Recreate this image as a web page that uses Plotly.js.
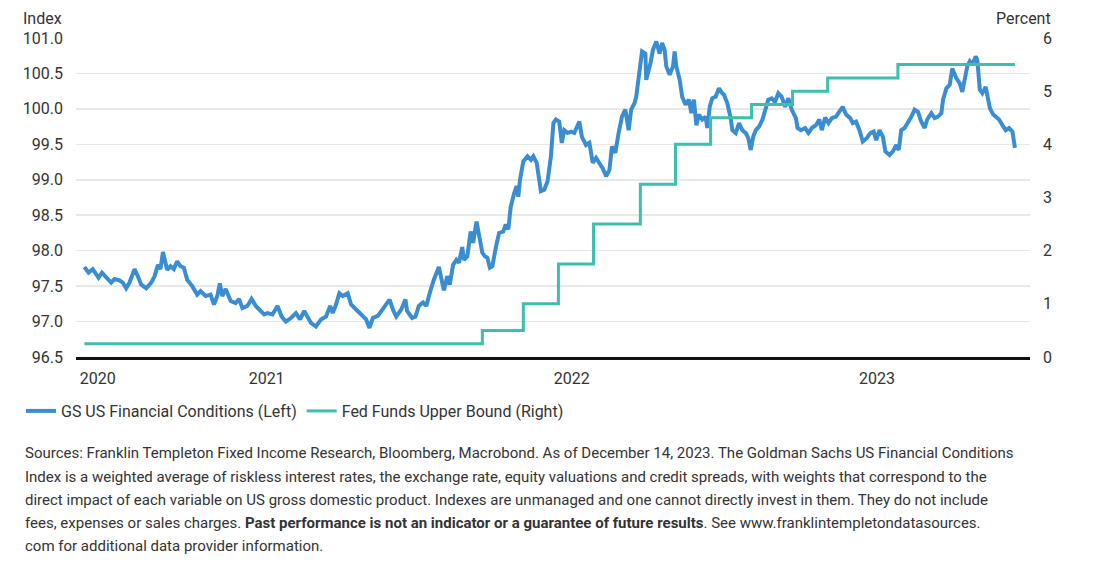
<!DOCTYPE html>
<html>
<head>
<meta charset="utf-8">
<script src="https://cdn.plot.ly/plotly-3.0.1.min.js"></script>
<style>
  html, body { margin: 0; padding: 0; background: #ffffff; }
  #chart { width: 1110px; height: 587px; }
</style>
</head>
<body>
<div id="chart"></div>
<script>
// GS US Financial Conditions Index (left axis)
var fciDates = [
  "2020-11-26","2020-12-01","2020-12-06","2020-12-10","2020-12-13","2020-12-17","2020-12-22","2020-12-28",
  "2021-01-01","2021-01-07","2021-01-11","2021-01-15","2021-01-19","2021-01-22","2021-01-25","2021-01-29",
  "2021-02-02","2021-02-08","2021-02-14","2021-02-18","2021-02-22","2021-02-25","2021-02-28",
  "2021-03-03","2021-03-05","2021-03-09","2021-03-13","2021-03-17","2021-03-21","2021-03-25","2021-03-29",
  "2021-04-04","2021-04-10","2021-04-14","2021-04-20","2021-04-26","2021-04-30",
  "2021-05-04","2021-05-07","2021-05-10","2021-05-14","2021-05-20","2021-05-26","2021-05-30",
  "2021-06-03","2021-06-09","2021-06-14","2021-06-19","2021-06-25","2021-06-29",
  "2021-07-03","2021-07-09","2021-07-15","2021-07-20","2021-07-25","2021-07-31",
  "2021-08-06","2021-08-11","2021-08-16","2021-08-20","2021-08-24","2021-08-30",
  "2021-09-05","2021-09-11","2021-09-16","2021-09-19","2021-09-23","2021-09-27",
  "2021-10-01","2021-10-07","2021-10-11","2021-10-17","2021-10-23","2021-10-29",
  "2021-11-02","2021-11-06","2021-11-12","2021-11-17","2021-11-22","2021-11-26","2021-11-30",
  "2021-12-04","2021-12-10","2021-12-15","2021-12-17","2021-12-23","2021-12-27","2021-12-31",
  "2022-01-05","2022-01-09","2022-01-13","2022-01-18","2022-01-24","2022-01-28","2022-01-30",
  "2022-02-03","2022-02-06","2022-02-10","2022-02-14","2022-02-17","2022-02-21","2022-02-23","2022-02-27",
  "2022-03-03","2022-03-06","2022-03-10","2022-03-13","2022-03-17","2022-03-20","2022-03-23","2022-03-26","2022-03-29",
  "2022-04-02","2022-04-06","2022-04-11","2022-04-14","2022-04-17","2022-04-20","2022-04-24","2022-04-27","2022-04-29",
  "2022-05-01","2022-05-05","2022-05-10","2022-05-14","2022-05-17","2022-05-21","2022-05-24","2022-05-26","2022-05-30",
  "2022-06-03","2022-06-07","2022-06-10","2022-06-13","2022-06-17","2022-06-20","2022-06-23","2022-06-27",
  "2022-07-01","2022-07-05","2022-07-08","2022-07-11","2022-07-14","2022-07-19","2022-07-23","2022-07-27","2022-07-31",
  "2022-08-04","2022-08-08","2022-08-12","2022-08-16","2022-08-19","2022-08-23","2022-08-27","2022-08-31",
  "2022-09-04","2022-09-08","2022-09-11","2022-09-15","2022-09-17","2022-09-21","2022-09-24","2022-09-28","2022-09-29",
  "2022-10-04","2022-10-07","2022-10-11","2022-10-15","2022-10-18","2022-10-21","2022-10-23","2022-10-27","2022-10-31",
  "2022-11-02","2022-11-04","2022-11-08","2022-11-11","2022-11-15","2022-11-19","2022-11-22","2022-11-25","2022-11-28",
  "2022-12-01","2022-12-05","2022-12-09","2022-12-11","2022-12-14","2022-12-17","2022-12-21","2022-12-25","2022-12-29","2022-12-31",
  "2023-01-04","2023-01-08","2023-01-10","2023-01-14","2023-01-18","2023-01-22","2023-01-26","2023-01-29",
  "2023-02-01","2023-02-04","2023-02-07","2023-02-11","2023-02-15","2023-02-19","2023-02-22","2023-02-26",
  "2023-03-02","2023-03-06","2023-03-10","2023-03-14","2023-03-18","2023-03-22","2023-03-27","2023-03-29",
  "2023-04-02","2023-04-07","2023-04-11","2023-04-15","2023-04-20","2023-04-24","2023-04-27",
  "2023-05-01","2023-05-05","2023-05-09","2023-05-14","2023-05-18","2023-05-22","2023-05-26","2023-05-31",
  "2023-06-03","2023-06-07","2023-06-11","2023-06-15","2023-06-20","2023-06-24","2023-06-28",
  "2023-07-01","2023-07-05","2023-07-09","2023-07-12","2023-07-17","2023-07-21","2023-07-25","2023-07-28","2023-07-31",
  "2023-08-04","2023-08-08","2023-08-12","2023-08-16","2023-08-20","2023-08-24","2023-08-28","2023-08-31",
  "2023-09-05","2023-09-09","2023-09-13","2023-09-17","2023-09-19","2023-09-23","2023-09-27","2023-09-30",
  "2023-10-05","2023-10-09","2023-10-12","2023-10-14","2023-10-18","2023-10-21","2023-10-24","2023-10-28","2023-10-30",
  "2023-11-02","2023-11-05","2023-11-09","2023-11-11","2023-11-14","2023-11-18","2023-11-22","2023-11-25","2023-11-29",
  "2023-12-03","2023-12-07","2023-12-11","2023-12-14"
];
var fciValues = [
  97.77,97.69,97.74,97.66,97.62,97.69,97.62,97.55,
  97.60,97.58,97.55,97.47,97.55,97.64,97.74,97.64,
  97.52,97.47,97.55,97.64,97.80,97.74,97.98,
  97.83,97.73,97.78,97.74,97.85,97.78,97.76,97.59,
  97.50,97.38,97.43,97.36,97.38,97.24,
  97.36,97.54,97.36,97.46,97.29,97.26,97.32,
  97.19,97.22,97.32,97.22,97.15,97.10,
  97.12,97.10,97.22,97.07,97.00,97.05,
  97.12,97.03,97.15,97.07,96.98,96.93,
  97.03,97.07,97.22,97.12,97.24,97.40,
  97.36,97.40,97.24,97.17,97.10,97.03,
  96.91,97.05,97.08,97.17,97.24,97.31,97.17,
  97.07,97.17,97.31,97.15,97.05,97.07,97.22,
  97.27,97.22,97.40,97.59,97.77,97.55,97.44,
  97.64,97.52,97.80,97.87,97.83,98.05,97.87,97.92,
  98.27,98.11,98.41,98.20,97.97,97.92,97.90,97.76,97.78,
  98.04,98.25,98.27,98.37,98.30,98.62,98.81,98.91,98.76,
  99.00,99.26,99.33,99.28,99.33,99.24,99.00,98.84,98.86,
  98.98,99.33,99.80,99.85,99.82,99.52,99.70,99.66,
  99.68,99.66,99.73,99.82,99.61,99.49,99.52,99.24,99.31,
  99.24,99.16,99.05,99.14,99.47,99.38,99.66,99.89,
  99.99,99.70,99.99,100.08,100.17,100.55,100.81,100.78,100.41,
  100.64,100.83,100.95,100.78,100.93,100.83,100.60,100.48,100.60,
  100.81,100.60,100.41,100.17,100.06,100.13,99.94,100.13,99.77,
  99.92,99.85,99.89,99.73,100.03,100.15,100.17,100.29,100.22,100.20,
  100.08,99.87,99.70,99.66,99.80,99.70,99.66,99.59,
  99.42,99.61,99.70,99.75,99.85,99.99,100.13,100.15,
  100.10,100.22,100.17,100.03,100.15,99.99,99.87,99.73,
  99.70,99.73,99.66,99.73,99.77,99.85,99.70,
  99.88,99.80,99.87,99.89,99.96,100.03,99.92,99.87,
  99.80,99.82,99.70,99.54,99.59,99.66,99.68,
  99.56,99.70,99.61,99.40,99.35,99.40,99.49,99.42,99.70,
  99.73,99.80,99.89,99.99,99.96,99.82,99.73,99.85,
  99.94,99.87,99.89,99.94,100.13,100.29,100.34,100.57,
  100.43,100.36,100.24,100.36,100.60,100.67,100.62,100.74,100.69,
  100.27,100.22,100.31,100.20,100.01,99.92,99.87,99.85,99.77,
  99.70,99.73,99.68,99.45
];

// Fed Funds upper bound (right axis), step changes
var fedDates = ["2020-11-26","2022-03-17","2022-05-05","2022-06-16","2022-07-28","2022-09-22","2022-11-03","2022-12-15","2023-02-02","2023-03-23","2023-05-04","2023-07-27","2023-12-14"];
var fedValues = [0.25,0.5,1.0,1.75,2.5,3.25,4.0,4.5,4.75,5.0,5.25,5.5,5.5];

var xTickVals = ["2020-12-12","2021-07-02","2022-07-02","2023-07-02"];
var xTickText = ["2020","2021","2022","2023"];
var leftTicks = [96.5,97.0,97.5,98.0,98.5,99.0,99.5,100.0,100.5,101.0];
var leftTickText = ["96.5","97.0","97.5","98.0","98.5","99.0","99.5","100.0","100.5","101.0"];
var rightTicks = [0,1,2,3,4,5,6];

var FONT = "Roboto, 'Open Sans', sans-serif";
var TXT = "#333333";

var traces = [
  {
    x: fciDates, y: fciValues, type: "scatter", mode: "lines",
    name: "GS US Financial Conditions (Left)",
    line: { color: "#3a8dd1", width: 4 },
    yaxis: "y"
  },
  {
    x: fedDates, y: fedValues, type: "scatter", mode: "lines",
    name: "Fed Funds Upper Bound (Right)",
    line: { color: "#3dbfae", width: 3, shape: "hv" },
    yaxis: "y2"
  }
];

var footLines = [
  "Sources: Franklin Templeton Fixed Income Research, Bloomberg, Macrobond. As of December 14, 2023. The Goldman Sachs US Financial Conditions",
  "Index is a weighted average of riskless interest rates, the exchange rate, equity valuations and credit spreads, with weights that correspond to the",
  "direct impact of each variable on US gross domestic product. Indexes are unmanaged and one cannot directly invest in them. They do not include",
  "fees, expenses or sales charges. <b>Past performance is not an indicator or a guarantee of future results</b>. See www.franklintempletondatasources.",
  "com for additional data provider information."
];
var footY = [453, 477, 500, 523, 546];

var annotations = [
  { xref: "paper", yref: "paper", x: -0.013, y: 1.0, xanchor: "right", yanchor: "bottom", yshift: 8,
    text: "Index", showarrow: false, font: { family: FONT, size: 16, color: TXT } },
  { xref: "paper", yref: "paper", x: 1.022, y: 1.0, xanchor: "left", yanchor: "bottom", yshift: 8, xshift: -57,
    text: "Percent", showarrow: false, font: { family: FONT, size: 16, color: TXT } }
];
for (var i = 0; i < footLines.length; i++) {
  annotations.push({
    xref: "paper", yref: "paper",
    x: (23 - 76) / 954, y: (357 - footY[i]) / 319,
    xanchor: "left", yanchor: "middle",
    text: footLines[i], showarrow: false, align: "left",
    font: { family: FONT, size: 15, color: TXT }
  });
}

var layout = {
  width: 1110, height: 587,
  margin: { l: 76, r: 80, t: 38, b: 230, pad: 0 },
  paper_bgcolor: "#ffffff", plot_bgcolor: "#ffffff",
  font: { family: FONT, size: 16, color: TXT },
  showlegend: true,
  legend: {
    orientation: "h", x: (21 - 76) / 954, y: (357 - 411) / 319,
    xanchor: "left", yanchor: "middle",
    font: { family: FONT, size: 16, color: TXT },
    bgcolor: "rgba(0,0,0,0)", itemwidth: 30, tracegroupgap: 0
  },
  xaxis: {
    type: "date", range: ["2020-11-16", "2024-01-01"],
    tickmode: "array", tickvals: xTickVals, ticktext: xTickText,
    showgrid: false, zeroline: false,
    showline: true, linecolor: "#111111", linewidth: 2.5,
    ticks: "", ticklabelstandoff: 5,
    tickfont: { family: FONT, size: 16, color: TXT }
  },
  yaxis: {
    range: [96.5, 101.0],
    tickmode: "array", tickvals: leftTicks, ticktext: leftTickText,
    showgrid: true, gridcolor: "#e8e8e8", gridwidth: 1.5,
    zeroline: false, showline: false, ticks: "", ticklabelstandoff: 12,
    tickfont: { family: FONT, size: 16, color: TXT }
  },
  yaxis2: {
    overlaying: "y", side: "right", range: [0, 6],
    tickmode: "array", tickvals: rightTicks,
    showgrid: false, zeroline: false, showline: false, ticks: "", ticklabelstandoff: 12,
    tickfont: { family: FONT, size: 16, color: TXT }
  },
  annotations: annotations
};

Plotly.newPlot("chart", traces, layout, { displayModeBar: false, staticPlot: true });
</script>
</body>
</html>
